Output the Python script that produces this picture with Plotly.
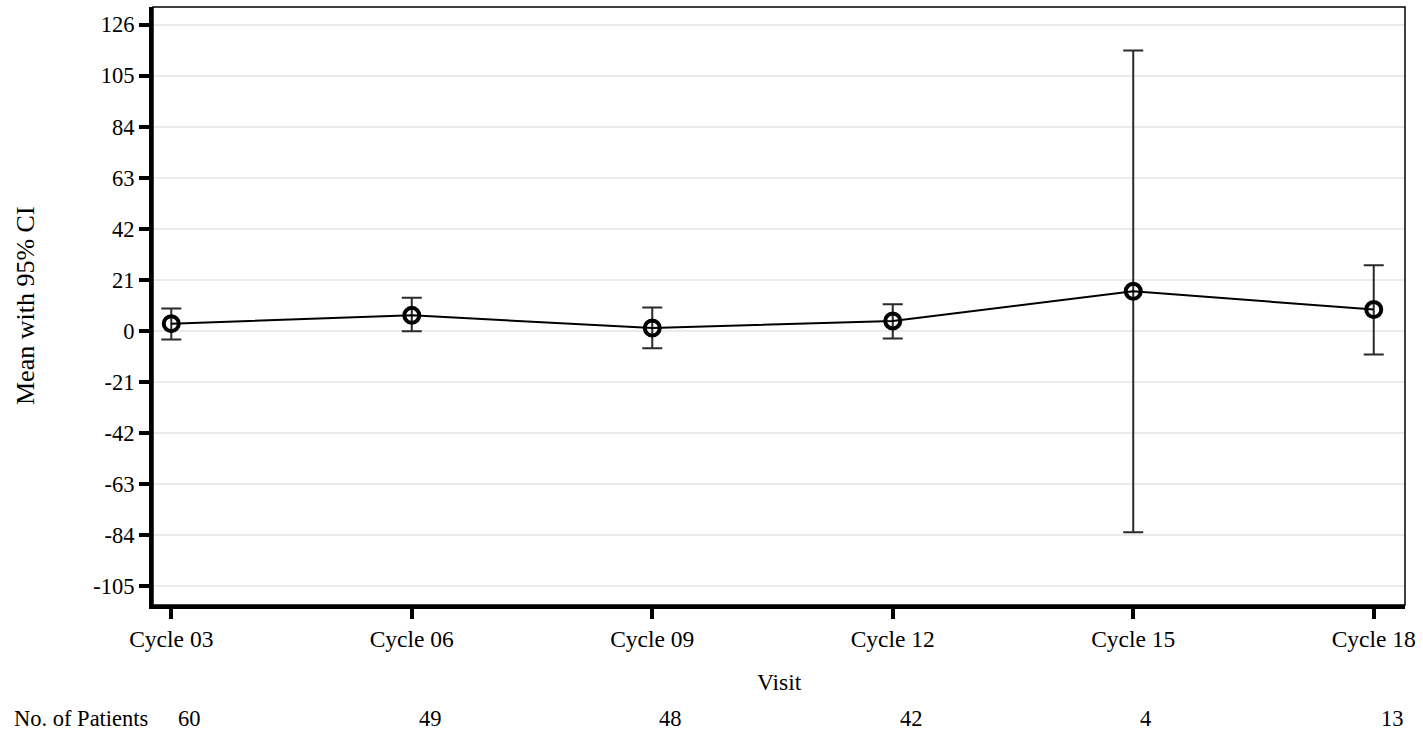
import plotly.graph_objects as go

visits = ["Cycle 03", "Cycle 06", "Cycle 09", "Cycle 12", "Cycle 15", "Cycle 18"]
means = [3.0, 6.4, 1.2, 4.1, 16.3, 8.8]
upper = [9.2, 13.6, 9.6, 11.0, 115.3, 27.0]
lower = [-3.5, -0.1, -7.1, -3.1, -82.8, -9.7]
n_patients = [60, 49, 48, 42, 4, 13]
y_ticks = [-105, -84, -63, -42, -21, 0, 21, 42, 63, 84, 105, 126]

FONT = "Liberation Serif"
W, H = 1423, 731
ML, MR, MT, MB = 153, 18, 7, 126
plot_w = W - ML - MR
plot_h = H - MT - MB

idx = list(range(len(visits)))
err_plus = [u - m for u, m in zip(upper, means)]
err_minus = [m - l for m, l in zip(means, lower)]

fig = go.Figure()
fig.add_trace(go.Scatter(
    x=idx, y=means, mode="lines+markers",
    line=dict(color="black", width=2),
    marker=dict(symbol="circle-open", size=15, color="black", line=dict(width=4, color="black")),
    error_y=dict(type="data", symmetric=False, array=err_plus, arrayminus=err_minus,
                 color="#2a2a2a", thickness=2, width=10),
    showlegend=False,
))

fig.update_layout(
    width=W, height=H,
    margin=dict(l=ML, r=MR, t=MT, b=MB),
    paper_bgcolor="white", plot_bgcolor="white",
    font=dict(family=FONT, size=23, color="black"),
    xaxis=dict(
        range=[-0.076, 5.13], tickmode="array", tickvals=idx, ticktext=visits,
        showgrid=False, zeroline=False,
        showline=True, linecolor="black", linewidth=3.5,
        ticks="outside", ticklen=10, tickwidth=3.5, tickcolor="black",
        tickfont=dict(family=FONT, size=23.5),
    ),
    yaxis=dict(
        range=[-112.7, 133.2], tickmode="array", tickvals=y_ticks,
        ticktext=[str(v) for v in y_ticks],
        showgrid=True, gridcolor="#ebebeb", gridwidth=1.5, zeroline=False,
        showline=True, linecolor="black", linewidth=4,
        ticks="outside", ticklen=10, tickwidth=3.5, tickcolor="black",
        tickfont=dict(family=FONT, size=22.5),
    ),
)

# thin frame on top/right
fig.add_shape(type="rect", xref="x domain", yref="y domain", x0=0, x1=1, y0=0, y1=1,
              line=dict(color="black", width=1.5), layer="above")

# axis titles
fig.add_annotation(text="Visit", xref="paper", yref="paper", x=0.5, y=0,
                   xanchor="center", yanchor="middle", yshift=-(682 - (H - MB)),
                   showarrow=False, font=dict(family=FONT, size=23.5))
fig.add_annotation(text="Mean with 95% CI", xref="paper", yref="paper",
                   x=(25 - ML) / plot_w, y=(H - MB - 306) / plot_h,
                   xanchor="center", yanchor="middle", textangle=-90,
                   showarrow=False, font=dict(family=FONT, size=26))

# patient counts row
fig.add_annotation(text="No. of Patients", xref="paper", yref="paper",
                   x=(12 - ML) / plot_w, y=0, xanchor="left", yanchor="middle",
                   yshift=-113, showarrow=False, font=dict(family=FONT, size=22.5))
for i, n in zip(idx, n_patients):
    fig.add_annotation(text=str(n), xref="x", yref="paper", x=i, y=0,
                       xanchor="left", yanchor="middle", xshift=5, yshift=-113,
                       showarrow=False, font=dict(family=FONT, size=22.5))

fig.write_html("out.html")
